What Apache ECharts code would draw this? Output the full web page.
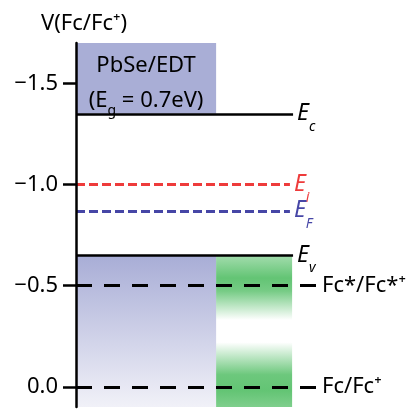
<!DOCTYPE html>
<html>
<head>
<meta charset="utf-8">
<script src="https://cdn.jsdelivr.net/npm/echarts@6/dist/echarts.min.js"></script>
<style>
html,body{margin:0;padding:0;background:#fff;}
#c{width:410px;height:414px;}
</style>
</head>
<body>
<div id="c"></div>
<script>
// ---- data ----
const yTicks = [-1.5, -1.0, -0.5, 0.0];
const levelNames = ['c', 'i', 'F', 'v'];          // subscripts of E
const levelValues = [-1.35, -1.0, -0.87, -0.65];  // V vs Fc/Fc+
const redoxNames = ['Fc*/Fc*⁺', 'Fc/Fc⁺'];
const redoxValues = [-0.5, 0.0];
const material = 'PbSe/EDT';
const bandGap = 0.7;
const axisTitle = 'V(Fc/Fc⁺)';

// ---- layout (x in arbitrary 0..100 units) ----
const X0 = 0, FILM_END = 57.9, SOL_END = 89.3, LEVEL_END = 89.7, FERMI_END = 88.4, REDOX_END = 100;
const Y_MIN = -1.7, Y_MAX = 0.1;
const FONT = 'Noto Sans';

const chart = echarts.init(document.getElementById('c'), null, {renderer: 'canvas'});

const lavender = '#a9aed6';
const green = 'rgba(72,186,92,';

const levelStyles = [
  {color: '#000', type: 'solid', width: 2.5},
  {color: '#ee3b3b', type: [9, 4], width: 3},
  {color: '#4646a6', type: [9, 4], width: 3},
  {color: '#000', type: 'solid', width: 2.5}
];
const levelEnds = [LEVEL_END, FERMI_END, FERMI_END, LEVEL_END];

const markLines = [];
levelValues.forEach((v, i) => {
  const st = levelStyles[i];
  markLines.push([
    {coord: [X0, v], lineStyle: st,
     label: {show: true, position: 'end', distance: 4,
       formatter: '{e|E}{s|' + levelNames[i] + '}',
       rich: {
         e: {fontFamily: FONT, fontStyle: 'italic', fontSize: 23, color: st.color},
         s: {fontFamily: FONT, fontStyle: 'italic', fontSize: 14, color: st.color, padding: [26, 0, 0, 0]}
       }}},
    {coord: [levelEnds[i], v]}
  ]);
});
redoxValues.forEach((v, i) => {
  markLines.push([
    {coord: [X0, v], lineStyle: {color: '#000', type: [16, 12], width: 3},
     label: {show: true, position: 'end', distance: 4, formatter: redoxNames[i],
       fontFamily: FONT, fontSize: 22, color: '#000'}},
    {coord: [REDOX_END, v]}
  ]);
});

function vGrad(stops) {
  return new echarts.graphic.LinearGradient(0, 0, 0, 1, stops);
}

const areas = [
  [{coord: [X0, Y_MIN], itemStyle: {color: lavender},
    label: {show: true, position: 'inside', offset: [0, 5],
      formatter: '{t|' + material + '}\n{t|(E}{g|g}{t| = ' + bandGap.toFixed(1) + 'eV)}',
      rich: {
        t: {fontFamily: FONT, fontSize: 22, color: '#000', lineHeight: 35},
        g: {fontFamily: FONT, fontSize: 14, color: '#000', padding: [20, 0, 0, 0], lineHeight: 35}
      }}},
   {coord: [FILM_END, levelValues[0]]}],
  [{coord: [X0, levelValues[3]], itemStyle: {color: vGrad([
      {offset: 0, color: '#a8add6'}, {offset: 1, color: '#f1f1f8'}])}},
   {coord: [FILM_END, Y_MAX]}],
  [{coord: [FILM_END, levelValues[3]], itemStyle: {color: vGrad([
      {offset: 0, color: green + '0.5)'}, {offset: 0.35, color: green + '0.85)'},
      {offset: 0.55, color: green + '0.75)'}, {offset: 1, color: green + '0)'}])}},
   {coord: [SOL_END, -0.33]}],
  [{coord: [FILM_END, -0.22], itemStyle: {color: vGrad([
      {offset: 0, color: green + '0)'}, {offset: 0.5, color: green + '0.8)'},
      {offset: 0.75, color: green + '0.85)'}, {offset: 1, color: green + '0.7)'}])}},
   {coord: [SOL_END, Y_MAX]}]
];

chart.setOption({
  animation: false,
  backgroundColor: '#fff',
  title: {text: axisTitle, left: 36, top: 8,
    textStyle: {fontFamily: FONT, fontSize: 22, fontWeight: 'normal', color: '#000'}},
  grid: {left: 76, right: 92, top: 43, bottom: 7, containLabel: false},
  xAxis: {type: 'value', min: X0, max: REDOX_END, show: false},
  yAxis: {
    type: 'value', inverse: true, min: Y_MIN, max: Y_MAX, z: 10,
    splitLine: {show: false},
    axisLine: {show: true, onZero: false, lineStyle: {color: '#000', width: 2.5}},
    axisTick: {show: true, customValues: yTicks, length: 13, lineStyle: {color: '#000', width: 2.5}},
    axisLabel: {show: true, customValues: yTicks, margin: 18, fontFamily: FONT, fontSize: 22, color: '#000',
      formatter: v => (v < 0 ? '−' : '') + Math.abs(v).toFixed(1)}
  },
  series: [
    {type: 'line', data: [], z: 1, silent: true,
     markArea: {silent: true, data: areas}},
    {type: 'line', data: [], z: 3, silent: true,
     markLine: {silent: true, symbol: ['none', 'none'], data: markLines}}
  ]
});
</script>
</body>
</html>
